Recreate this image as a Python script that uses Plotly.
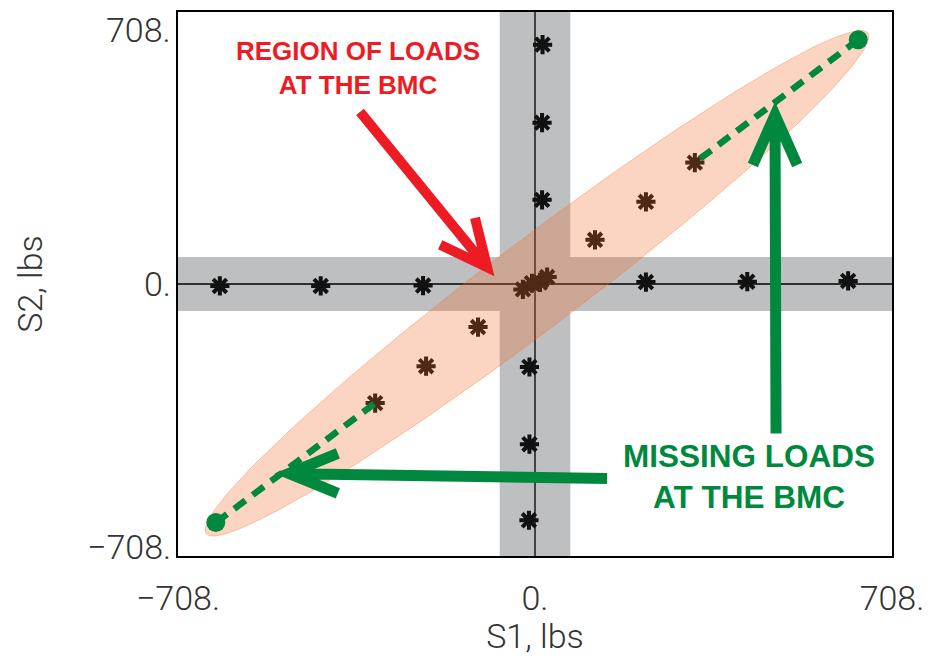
import numpy as np
import plotly.graph_objects as go

# ---------------- data (lbs) ----------------
s1_only_x = [-625, -425, -222, 220, 421, 621]
s1_only_y = [-5, -5, -4, 5, 6, 8]
s2_only_x = [-12, -11, -11, 14, 14, 15]
s2_only_y = [-615, -417, -216, 219, 420, 623]
combo_x = [-317, -216, -113, 119, 220, 317]
combo_y = [-310, -214, -112, 115, 214, 316]
center_x = [-24, -6, 10, 24]
center_y = [-14, 2, 4, 18]
missing_x = [-633, 641]
missing_y = [-621, 636]

tick_vals = [-708, 0, 708]
tick_text = ["\u2212708.", "0.", "708."]

AX = 708
BAND = 70
GREEN = "#00893E"
RED = "#ED1C24"
STAR = "#111111"
FONT = "Liberation Sans, Arial, sans-serif"
AXFONT = "Roboto, Liberation Sans, sans-serif"
TXT = "#333333"

fig = go.Figure()

# loads at the BMC (asterisks)
all_x = s1_only_x + s2_only_x + combo_x + center_x
all_y = s1_only_y + s2_only_y + combo_y + center_y
fig.add_trace(go.Scatter(
    x=all_x, y=all_y, mode="markers",
    marker=dict(symbol="asterisk-open", size=16, color=STAR,
                line=dict(color=STAR, width=4)),
    hoverinfo="skip", showlegend=False))

# highlight ellipse (region of loads)
cx, cy, a, b = 4, 2, 925, 102
t = np.linspace(0, 2 * np.pi, 181)
u = np.array([1, 1]) / np.sqrt(2)
v = np.array([-1, 1]) / np.sqrt(2)
ex = cx + a * np.cos(t) * u[0] + b * np.sin(t) * v[0]
ey = cy + a * np.cos(t) * u[1] + b * np.sin(t) * v[1]
fig.add_trace(go.Scatter(
    x=ex, y=ey, mode="lines", fill="toself",
    fillcolor="rgba(244,105,37,0.28)",
    line=dict(color="rgba(244,105,37,0.35)", width=1),
    hoverinfo="skip", showlegend=False))

# missing loads: dashed extrapolations
fig.add_trace(go.Scatter(
    x=[missing_x[1], combo_x[-1]], y=[missing_y[1], combo_y[-1]],
    mode="lines", line=dict(color=GREEN, width=6.5, dash="14px,9px"),
    hoverinfo="skip", showlegend=False))
fig.add_trace(go.Scatter(
    x=[missing_x[0], combo_x[0]], y=[missing_y[0], combo_y[0]],
    mode="lines", line=dict(color=GREEN, width=6.5, dash="14px,9px"),
    hoverinfo="skip", showlegend=False))
fig.add_trace(go.Scatter(
    x=missing_x, y=missing_y, mode="markers",
    marker=dict(symbol="circle", size=19, color=GREEN),
    hoverinfo="skip", showlegend=False))

shapes = [
    dict(type="rect", xref="x", yref="y", x0=-BAND, x1=BAND, y0=-AX, y1=AX,
         fillcolor="#BEBFC1", line=dict(width=0), layer="below"),
    dict(type="rect", xref="x", yref="y", x0=-AX, x1=AX, y0=-BAND, y1=BAND,
         fillcolor="#BEBFC1", line=dict(width=0), layer="below"),
    dict(type="line", xref="x", yref="y", x0=0, x1=0, y0=-AX, y1=AX,
         line=dict(color="black", width=1.3), layer="below"),
    dict(type="line", xref="x", yref="y", x0=-AX, x1=AX, y0=0, y1=0,
         line=dict(color="black", width=1.3), layer="below"),
]

def arrow(points_shaft, points_head, color, width):
    (x0, y0), (x1, y1) = points_shaft
    (hx1, hy1), (tx, ty), (hx2, hy2) = points_head
    path = (f"M{x0},{y0} L{x1},{y1} "
            f"M{hx1},{hy1} L{tx},{ty} L{hx2},{hy2}")
    return dict(type="path", xref="x", yref="y", path=path,
                line=dict(color=color, width=width), layer="above")

# red arrow
shapes.append(arrow([(-347, 448), (-102, 54)],
                    [(-188, 102), (-95, 44), (-119, 172)], RED, 10))
# green vertical arrow
shapes.append(arrow([(478, -389), (476, 428)],
                    [(432, 310), (476, 440), (520, 310)], GREEN, 11))
# green horizontal arrow
shapes.append(arrow([(143, -506), (-476, -494)],
                    [(-391, -441), (-488, -493), (-391, -545)], GREEN, 11))

annotations = [
    dict(text="REGION OF LOADS<br>AT THE BMC", xref="x", yref="y",
         x=-352, y=563, showarrow=False,
         font=dict(family=FONT, size=26, color=RED, weight="bold"),
         align="center"),
    dict(text="MISSING LOADS<br>AT THE BMC", xref="x", yref="y",
         x=424, y=-502, showarrow=False,
         font=dict(family=FONT, size=31.5, color=GREEN, weight="bold"),
         align="center"),
]
# y tick labels (placed like the original frame labels)
ytick_anchor = ["bottom", "middle", "top"]
ytick_shift = [-12, 0, 3]
for val, txt, anc, dy in zip(tick_vals, tick_text, ytick_anchor, ytick_shift):
    annotations.append(dict(text=txt, xref="paper", yref="y", x=0, y=val,
                            xanchor="right", yanchor=anc, xshift=-6,
                            yshift=dy, showarrow=False, borderpad=0,
                            font=dict(family=AXFONT, size=34, color=TXT,
                                      weight=300)))

# page body has an 8px margin: size/margins chosen so the frame sits at
# x 178..892, y 12..556 in the 931x656 window
fig.update_layout(
    width=923, height=648,
    margin=dict(l=170, r=39, t=4, b=100, autoexpand=False),
    paper_bgcolor="white", plot_bgcolor="white",
    shapes=shapes, annotations=annotations,
    showlegend=False,
    xaxis=dict(range=[-AX, AX], tickvals=tick_vals, ticktext=tick_text,
               showgrid=False, zeroline=False, showline=True, mirror=True,
               linecolor="black", linewidth=2, ticks="", ticklabelstandoff=11,
               automargin=False,
               tickfont=dict(family=AXFONT, size=34, color=TXT, weight=300),
               title=dict(text="S1, lbs", standoff=8,
                          font=dict(family=AXFONT, size=34, color=TXT,
                                    weight=300))),
    yaxis=dict(range=[-AX, AX], showticklabels=False,
               showgrid=False, zeroline=False, showline=True, mirror=True,
               linecolor="black", linewidth=2, ticks="", automargin=False,
               title=dict(text="S2, lbs", standoff=123,
                          font=dict(family=AXFONT, size=34, color=TXT,
                                    weight=300))),
)

fig.write_html("out.html")
